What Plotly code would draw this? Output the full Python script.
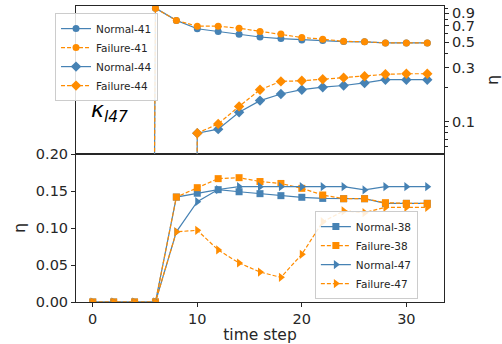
import plotly.graph_objects as go

# ---- data ----
time_step = [0, 2, 4, 6, 8, 10, 12, 14, 16, 18, 20, 22, 24, 26, 28, 30, 32]

# top panel (log scale)
normal_41 = [0, 0, 0, 1.0, 0.78, 0.658, 0.622, 0.589, 0.557, 0.539, 0.525, 0.518, 0.507, 0.505, 0.494, 0.494, 0.494]
failure_41 = [0, 0, 0, 1.0, 0.78, 0.693, 0.693, 0.665, 0.624, 0.591, 0.551, 0.533, 0.51, 0.505, 0.494, 0.494, 0.494]
normal_44 = [0, 0, 0, 0, 0, 0.079, 0.0857, 0.121, 0.153, 0.175, 0.191, 0.201, 0.208, 0.219, 0.234, 0.234, 0.234]
failure_44 = [0, 0, 0, 0, 0, 0.079, 0.0954, 0.136, 0.191, 0.226, 0.229, 0.236, 0.244, 0.251, 0.261, 0.264, 0.264]

# bottom panel (linear scale)
normal_38 = [0, 0, 0, 0, 0.1418, 0.147, 0.1518, 0.149, 0.1464, 0.1437, 0.1415, 0.140, 0.1396, 0.1396, 0.1333, 0.1333, 0.1333]
failure_38 = [0, 0, 0, 0, 0.1418, 0.1545, 0.1667, 0.168, 0.1628, 0.1602, 0.1536, 0.1446, 0.1396, 0.1396, 0.1342, 0.1333, 0.1333]
normal_47 = [0, 0, 0, 0, 0.0948, 0.1355, 0.152, 0.1558, 0.1558, 0.1558, 0.1558, 0.1558, 0.1558, 0.1514, 0.1558, 0.1558, 0.1558]
failure_47 = [0, 0, 0, 0, 0.0948, 0.0969, 0.0703, 0.0527, 0.0405, 0.0333, 0.0644, 0.1085, 0.123, 0.1207, 0.128, 0.128, 0.128]

x_ticks = [0, 10, 20, 30]
y_ticks_bottom = [0.0, 0.05, 0.10, 0.15, 0.20]
y_ticks_top = [0.1, 0.3, 0.5, 0.7, 0.9]
y_ticks_top_text = ["0.1", "0.3", "0.5", "0.7", "0.9"]
y_minor_top = [0.06, 0.07, 0.08, 0.09, 0.2, 0.4, 0.6, 0.8, 1.0]

BLUE = "#4682b4"
ORANGE = "#ff8c00"
FONT = "DejaVu Sans"


def clip_log(vals):
    # mimic matplotlib's "clip" of non-positive values on a log axis
    return [v if v > 0 else 1e-30 for v in vals]


fig = go.Figure()

top_series = [
    ("Normal-41", normal_41, BLUE, "solid", "circle", 7),
    ("Failure-41", failure_41, ORANGE, "4px,2px", "circle", 7),
    ("Normal-44", normal_44, BLUE, "solid", "diamond", 8),
    ("Failure-44", failure_44, ORANGE, "4px,2px", "diamond", 8),
]
for name, vals, col, dash, sym, sz in top_series:
    fig.add_trace(go.Scatter(
        x=time_step, y=clip_log(vals), name=name, mode="lines+markers",
        line=dict(color=col, width=1.2, dash=dash),
        marker=dict(color=col, symbol=sym, size=sz),
        xaxis="x2", yaxis="y2", legend="legend",
    ))

bottom_series = [
    ("Normal-38", normal_38, BLUE, "solid", "square", 7),
    ("Failure-38", failure_38, ORANGE, "4px,2px", "square", 7),
    ("Normal-47", normal_47, BLUE, "solid", "triangle-right", 8),
    ("Failure-47", failure_47, ORANGE, "4px,2px", "triangle-right", 8),
]
for name, vals, col, dash, sym, sz in bottom_series:
    fig.add_trace(go.Scatter(
        x=time_step, y=vals, name=name, mode="lines+markers",
        line=dict(color=col, width=1.2, dash=dash),
        marker=dict(color=col, symbol=sym, size=sz),
        xaxis="x", yaxis="y", legend="legend2",
    ))

axis_common = dict(showline=True, linecolor="#262626", linewidth=1, mirror=True,
                   showgrid=False, zeroline=False, automargin=False,
                   tickfont=dict(family=FONT, size=14.5, color="#262626"),
                   tickcolor="#262626")

fig.update_layout(
    width=502, height=344,
    margin=dict(l=76, r=58, t=6, b=42, autoexpand=False),
    paper_bgcolor="white", plot_bgcolor="white",
    font=dict(family=FONT, color="#262626"),
    hovermode=False,
    xaxis=dict(domain=[0, 1], range=[-1.6, 33.6], tickvals=x_ticks, ticks="outside",
               ticklen=4, anchor="y",
               title=dict(text="time step", font=dict(family=FONT, size=15.5), standoff=0),
               **axis_common),
    yaxis=dict(domain=[0, 0.5], range=[0, 0.2], tickvals=y_ticks_bottom, tickformat=".2f",
               ticks="outside", ticklen=4, anchor="x",
               title=dict(text="η", font=dict(family=FONT, size=16), standoff=6),
               **axis_common),
    xaxis2=dict(domain=[0, 1], range=[-1.6, 33.6], anchor="y2", showticklabels=False,
                ticks="", matches="x", **axis_common),
    yaxis2=dict(domain=[0.5, 1], type="log", range=[-1.286, 0.019], side="right",
                anchor="x2", tickvals=y_ticks_top, ticktext=y_ticks_top_text,
                ticks="outside", ticklen=4,
                minor=dict(tickmode="array", tickvals=y_minor_top, ticks="outside",
                           ticklen=2.5, tickcolor="#262626", showgrid=False),
                title=dict(text="η", font=dict(family=FONT, size=16), standoff=12),
                **axis_common),
    legend=dict(x=-0.057, y=0.976, xanchor="left", yanchor="top",
                bgcolor="rgba(255,255,255,0.85)", bordercolor="#cccccc", borderwidth=1,
                font=dict(family=FONT, size=10.5, color="#262626"), itemwidth=30,
                tracegroupgap=0),
    legend2=dict(x=0.929, y=0.01, xanchor="right", yanchor="bottom",
                 bgcolor="rgba(255,255,255,0.85)", bordercolor="#cccccc", borderwidth=1,
                 font=dict(family=FONT, size=10.5, color="#262626"), itemwidth=30,
                 tracegroupgap=0),
    annotations=[dict(
        text="<i>κ</i><sub><i>l47</i></sub>", xref="paper", yref="paper",
        x=0.092, y=0.645, xanchor="center", yanchor="middle", showarrow=False,
        font=dict(family=FONT, size=22, color="black"),
    )],
)

fig.write_html("out.html",
               config={"displayModeBar": False},
               post_script="document.body.style.margin='0';document.body.style.padding='0';")
